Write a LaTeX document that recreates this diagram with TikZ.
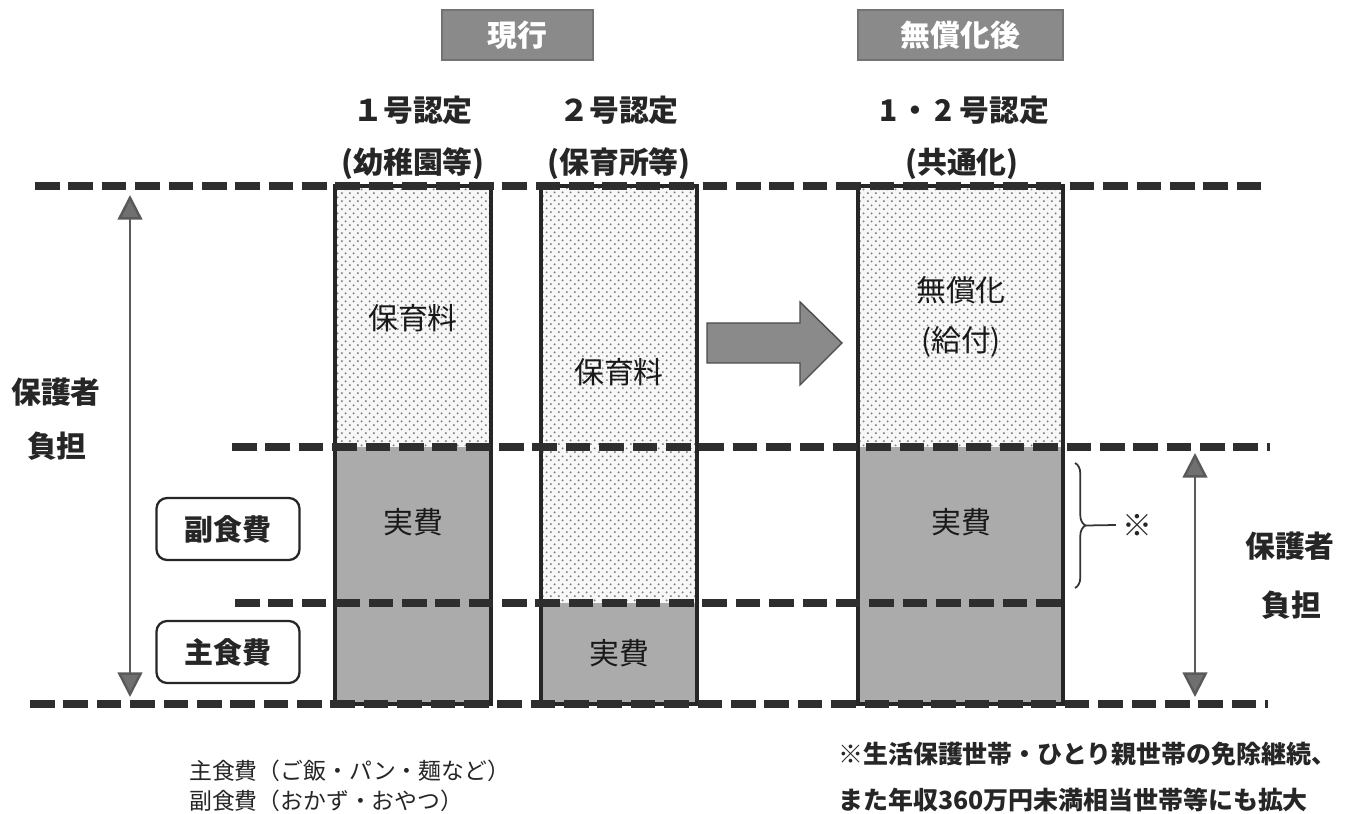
\documentclass[tikz,border=0pt]{standalone}
\usepackage{fontspec}
\setmainfont{Noto Sans CJK JP}
\usetikzlibrary{arrows.meta,patterns,decorations.pathreplacing}
\pgfdeclarepatternformonly{mydots}{\pgfpointorigin}{\pgfpoint{4.4pt}{4.4pt}}{\pgfpoint{4.4pt}{4.4pt}}{%
  \pgfpathcircle{\pgfpoint{1.1pt}{1.1pt}}{0.6pt}%
  \pgfpathcircle{\pgfpoint{3.3pt}{3.3pt}}{0.6pt}%
  \pgfusepath{fill}}
\definecolor{dashcol}{HTML}{2E2E2E}
\definecolor{boxgray}{HTML}{ABABAB}
\definecolor{headgray}{HTML}{8A8A8A}
\definecolor{arrowgray}{HTML}{707070}
\tikzset{
  dotfill/.style={fill=black!3, postaction={pattern=mydots, pattern color=black!50}},
  grayfill/.style={fill=boxgray},
  colborder/.style={draw=black!85, line width=2.3pt},
  dline/.style={draw=dashcol, line width=4pt, dash pattern=on 14pt off 5pt},
  headbox/.style={fill=headgray, draw=black!55, line width=0.6pt, minimum height=1cm, inner sep=0pt,
    text=white, font=\fontsize{17}{20}\selectfont\bfseries},
  title/.style={font=\fontsize{17}{20}\selectfont\bfseries, text=black!85},
  collabel/.style={font=\fontsize{17}{20}\selectfont, text=black!90},
  sidelabel/.style={font=\fontsize{17}{20}\selectfont\bfseries, text=black!85},
  foodbox/.style={draw=black!85, line width=1.3pt, rounded corners=6pt, minimum width=2.86cm,
    minimum height=1.24cm, font=\fontsize{16.5}{20}\selectfont\bfseries, text=black!85},
  dblarrow/.style={draw=arrowgray!80!black, line width=1.4pt,
    {Triangle[length=14pt,width=14pt,fill=arrowgray]}-{Triangle[length=14pt,width=14pt,fill=arrowgray]}},
  note/.style={anchor=west, font=\fontsize{14.2}{17}\selectfont\bfseries, text=black!85},
  footnote/.style={anchor=west, font=\fontsize{13}{16}\selectfont, text=black!85}
}
\begin{document}
\begin{tikzpicture}[x=0.02cm,y=-0.02cm]
\useasboundingbox (0,0) rectangle (1350,814);
\fill[white] (0,0) rectangle (1350,814);

% column fills
\path[dotfill] (335,186) rectangle (491,447);
\path[grayfill] (335,447) rectangle (491,704);
\path[dotfill] (541,186) rectangle (697,603);
\path[grayfill] (541,603) rectangle (697,704);
\path[dotfill] (858,186) rectangle (1063,447);
\path[grayfill] (858,447) rectangle (1063,704);

% column borders
\draw[colborder] (335,186) rectangle (491,704);
\draw[colborder] (541,186) rectangle (697,704);
\draw[colborder] (858,186) rectangle (1063,704);

% dashed level lines
\draw[dline] (35,186) -- (1270,186);
\draw[dline] (232,447) -- (1270,447);
\draw[dline] (235,603) -- (1063,603);
\draw[dline] (30,704) -- (1268,704);

% headers
\node[headbox, minimum width=3.02cm] (genko) at (517.5,35) {現行};
\node[headbox, minimum width=4.1cm] (mushoka) at (960.5,35) {無償化後};

% titles
\node[title] (t1) at (413,110) {１号認定};
\node[title] (t1s) at (413,164) {(幼稚園等)};
\node[title] (t2) at (619,110) {２号認定};
\node[title] (t2s) at (619,164) {(保育所等)};
\node[title] (t3) at (964,110) {1\kern2pt・\kern2pt2\kern4pt号認定};
\node[title] (t3s) at (962,164) {(共通化)};

% column labels
\node[collabel] (h1) at (413,318) {保育料};
\node[collabel] (h2) at (619,372) {保育料};
\node[collabel] (m1) at (961,290) {無償化};
\node[collabel] (m2) at (961,342) {(給付)};
\node[collabel] (j1) at (413,522) {実費};
\node[collabel] (j2) at (619,653) {実費};
\node[collabel] (j3) at (961,522) {実費};

% big arrow
\draw[fill=headgray, draw=black!70, line width=0.8pt]
  (707,323) -- (800,323) -- (800,302) -- (842,343) -- (800,385) -- (800,363) -- (707,363) -- cycle;

% left side
\coordinate (la1) at (130,195);
\coordinate (la2) at (130,697);
\draw[dblarrow] (la1) -- (la2);
\node[sidelabel] (lp1) at (56,392) {保護者};
\node[sidelabel] (lp2) at (57,446) {負担};

% food boxes
\node[foodbox] (fuku) at (228,529) {副食費};
\node[foodbox] (shu) at (228,652) {主食費};

% right side
\coordinate (br1) at (1075,463);
\coordinate (br2) at (1075,588);
\draw[black!80, line width=1pt, decorate, decoration={brace, amplitude=6pt}] (br1) -- (br2);
\coordinate (brtip) at (1086,525.5);
\node[font=\fontsize{17}{20}\selectfont, text=black!85] (kome) at (1137,525) {※};
\draw[black!80, line width=1pt] (brtip) -- (kome.west);
\coordinate (ra1) at (1195,453);
\coordinate (ra2) at (1195,697);
\draw[dblarrow] (ra1) -- (ra2);
\node[sidelabel] (rp1) at (1290,546) {保護者};
\node[sidelabel] (rp2) at (1291,605) {負担};

% footnotes
\node[footnote] (fn1) at (183,771) {主食費（ご飯・パン・麺など）};
\node[footnote] (fn2) at (183,801) {副食費（おかず・おやつ）};
\node[note] (n1) at (832,754) {※生活保護世帯・ひとり親世帯の免除継続、};
\node[note] (n2) at (832,800) {また年収360万円未満相当世帯等にも拡大};
\end{tikzpicture}
\end{document}
